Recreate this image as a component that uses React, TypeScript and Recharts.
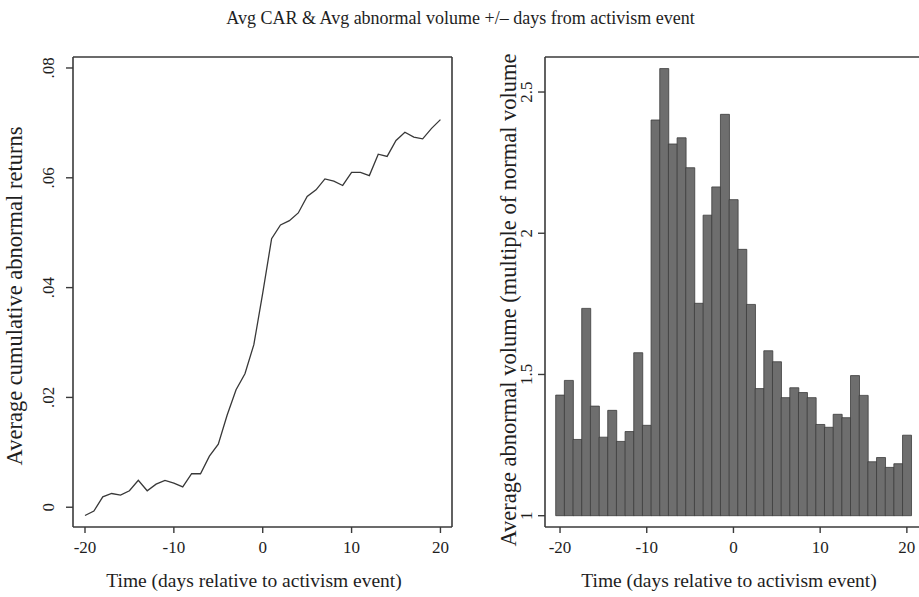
import { LineChart, Line, BarChart, Bar, XAxis, YAxis } from 'recharts';

// days relative to the activism event
const days = [
  -20, -19, -18, -17, -16, -15, -14, -13, -12, -11, -10, -9, -8, -7, -6, -5, -4, -3, -2, -1,
  0, 1, 2, 3, 4, 5, 6, 7, 8, 9, 10, 11, 12, 13, 14, 15, 16, 17, 18, 19, 20,
];

// average cumulative abnormal returns
const avgCar = [
  -0.0015, -0.0007, 0.0019, 0.0025, 0.0022, 0.003, 0.0049, 0.003, 0.0042, 0.0049, 0.0044,
  0.0037, 0.0061, 0.0061, 0.0093, 0.0115, 0.0168, 0.0214, 0.0243, 0.0296, 0.039, 0.0489,
  0.0514, 0.0522, 0.0536, 0.0566, 0.0578, 0.0598, 0.0594, 0.0586, 0.061, 0.061, 0.0604,
  0.0643, 0.0639, 0.0668, 0.0683, 0.0674, 0.0671, 0.069, 0.0706,
];

// average abnormal volume (multiple of normal volume)
const avgVolume = [
  1.427, 1.479, 1.27, 1.734, 1.388, 1.278, 1.373, 1.263, 1.298, 1.577, 1.32, 2.401, 2.583,
  2.316, 2.338, 2.232, 1.752, 2.064, 2.164, 2.421, 2.119, 1.943, 1.748, 1.45, 1.584, 1.545,
  1.418, 1.453, 1.436, 1.418, 1.323, 1.313, 1.359, 1.347, 1.496, 1.426, 1.191, 1.206, 1.171,
  1.184, 1.285,
];

const dayTicks = [-20, -10, 0, 10, 20];
const carTicks = [0, 0.02, 0.04, 0.06, 0.08];
const volTicks = [1, 1.5, 2, 2.5];
const volumeBase = 1;

const FONT = '"Liberation Serif", "Times New Roman", serif';
const INK = '#1e1e1e';
const FRAME = '#3a3a3a';

const carData = days.map((d, i) => ({ day: d, car: avgCar[i] }));
const volData = days.map((d, i) => ({ day: d, vol: [volumeBase, avgVolume[i]] }));

function fmtCar(v: number) {
  if (v === 0) return '0';
  return v.toFixed(2).replace(/^0/, '');
}

function XTick({ x, y, payload }: any) {
  return (
    <text x={x} y={y + 18} textAnchor="middle" fontSize={17} fontFamily={FONT} fill={INK}>
      {payload.value}
    </text>
  );
}

function makeYTick(fmt: (v: number) => string, shift: number) {
  return function YTick({ x, y, payload }: any) {
    const bx = x - shift;
    return (
      <text
        x={bx}
        y={y}
        transform={`rotate(-90 ${bx} ${y})`}
        textAnchor="middle"
        fontSize={17}
        fontFamily={FONT}
        fill={INK}
      >
        {fmt(payload.value)}
      </text>
    );
  };
}

function AxisTitle({
  x,
  y,
  text,
  size,
  rotate,
}: {
  x: number;
  y: number;
  text: string;
  size: number;
  rotate?: boolean;
}) {
  return (
    <text
      x={x}
      y={y}
      transform={rotate ? `rotate(-90 ${x} ${y})` : undefined}
      textAnchor="middle"
      fontSize={size}
      fontFamily={FONT}
      fill={INK}
    >
      {text}
    </text>
  );
}

const axisLine = { stroke: FRAME, strokeWidth: 1.6 };
const tickLine = { stroke: FRAME, strokeWidth: 1.4 };

function CarChart() {
  return (
    <LineChart
      width={470}
      height={597}
      data={carData}
      margin={{ top: 56, right: 17, bottom: 40, left: 33 }}
    >
      <XAxis
        dataKey="day"
        type="number"
        domain={[-21.35, 21.3]}
        ticks={dayTicks}
        allowDataOverflow
        height={30}
        axisLine={axisLine}
        tickLine={tickLine}
        tickSize={6}
        tick={<XTick />}
      />
      <XAxis
        xAxisId="top"
        dataKey="day"
        type="number"
        orientation="top"
        domain={[-21.35, 21.3]}
        allowDataOverflow
        height={1}
        axisLine={axisLine}
        tick={false}
        tickLine={false}
      />
      <YAxis
        type="number"
        domain={[-0.0036, 0.082]}
        ticks={carTicks}
        allowDataOverflow
        width={40}
        axisLine={axisLine}
        tickLine={tickLine}
        tickSize={7}
        tick={makeYTick(fmtCar, 10)}
      />
      <YAxis
        yAxisId="right"
        orientation="right"
        type="number"
        domain={[-0.0036, 0.082]}
        allowDataOverflow
        width={1}
        axisLine={axisLine}
        tick={false}
        tickLine={false}
      />
      <Line
        type="linear"
        dataKey="car"
        stroke="#383838"
        strokeWidth={1.3}
        dot={false}
        isAnimationActive={false}
      />
      <AxisTitle x={254} y={587} size={19.5} text="Time (days relative to activism event)" />
      <AxisTitle x={22} y={296} size={22.5} rotate text="Average cumulative abnormal returns" />
    </LineChart>
  );
}

function VolumeChart() {
  return (
    <BarChart
      width={460}
      height={597}
      data={volData}
      margin={{ top: 56, right: 15, bottom: 40, left: 25 }}
      barCategoryGap={0}
      barGap={0}
    >
      <XAxis
        dataKey="day"
        type="category"
        interval={9}
        padding={{ left: 10.7, right: 13.8 }}
        height={30}
        axisLine={axisLine}
        tickLine={tickLine}
        tickSize={6}
        tick={<XTick />}
      />
      <XAxis
        xAxisId="top"
        dataKey="day"
        type="category"
        orientation="top"
        height={1}
        axisLine={axisLine}
        tick={false}
        tickLine={false}
      />
      <YAxis
        type="number"
        domain={[0.96, 2.624]}
        ticks={volTicks}
        allowDataOverflow
        width={40}
        axisLine={axisLine}
        tickLine={tickLine}
        tickSize={7}
        tick={makeYTick((v) => String(v), 4)}
      />
      <Bar
        dataKey="vol"
        fill="#6e6e6e"
        stroke="#3c3c3c"
        strokeWidth={0.8}
        isAnimationActive={false}
      />
      <AxisTitle x={249} y={587} size={19.5} text="Time (days relative to activism event)" />
      <AxisTitle
        x={36}
        y={300}
        size={22.5}
        rotate
        text="Average abnormal volume (multiple of normal volume"
      />
    </BarChart>
  );
}

export default function App() {
  return (
    <div
      style={{
        position: 'absolute',
        left: 0,
        top: 0,
        width: 919,
        height: 597,
        overflow: 'hidden',
        background: '#ffffff',
        fontFamily: FONT,
      }}
    >
      <div
        style={{
          position: 'absolute',
          left: 0,
          top: 8,
          width: 921,
          textAlign: 'center',
          fontSize: 18,
          color: INK,
        }}
      >
        Avg CAR &amp; Avg abnormal volume +/– days from activism event
      </div>
      <div style={{ position: 'absolute', left: 0, top: 0 }}>
        <CarChart />
      </div>
      <div style={{ position: 'absolute', left: 480, top: 0 }}>
        <VolumeChart />
      </div>
    </div>
  );
}
